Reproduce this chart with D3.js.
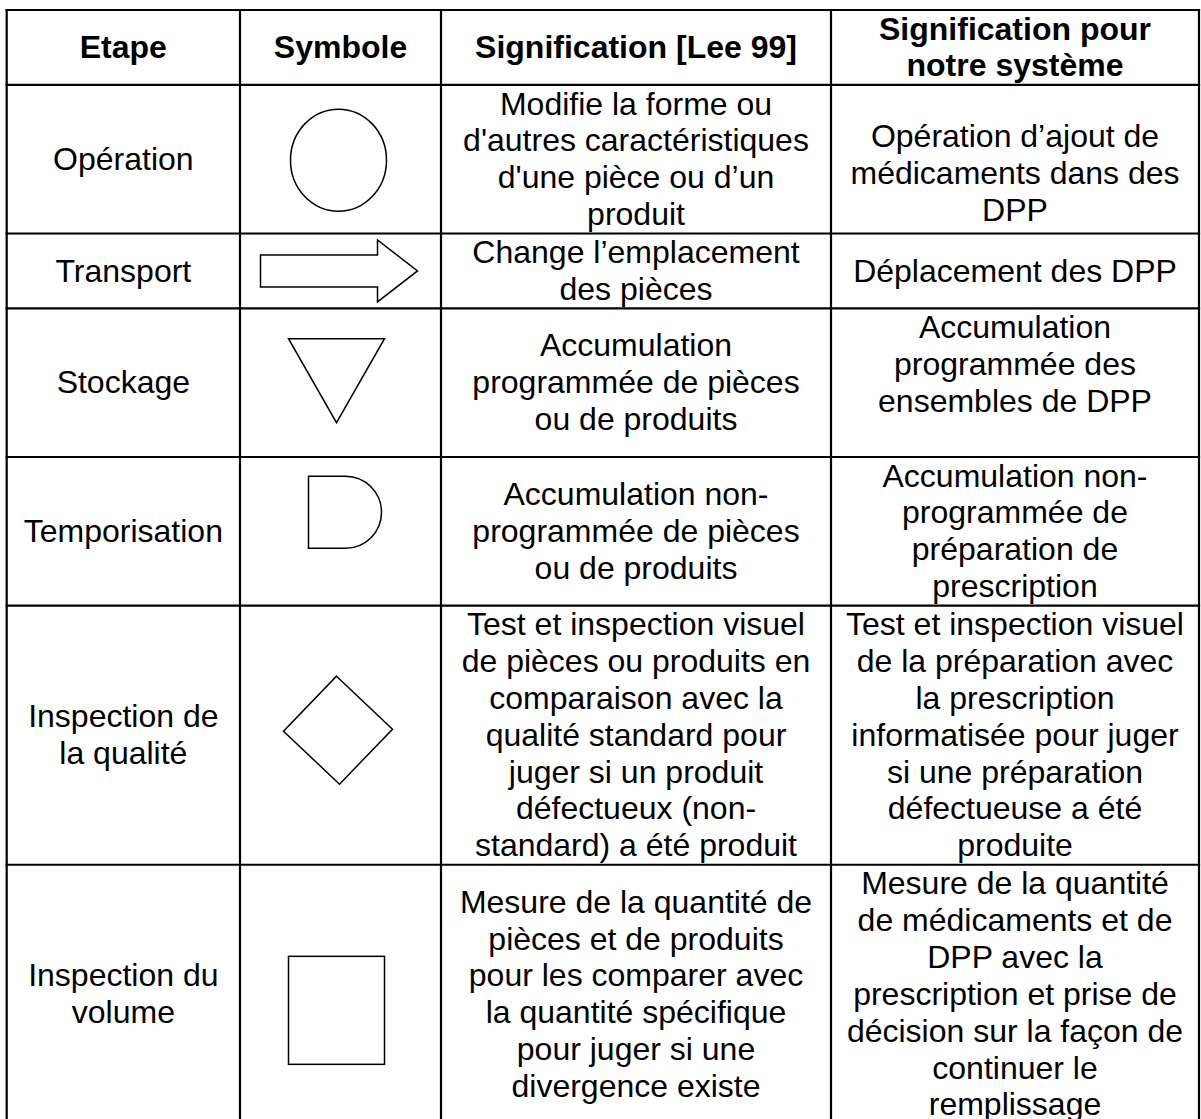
<!DOCTYPE html>
<html>
<head>
<meta charset="utf-8">
<script src="https://cdn.jsdelivr.net/npm/d3@7"></script>
<style>
  html, body { margin: 0; padding: 0; background: #fff; }
  svg { display: block; }
</style>
</head>
<body>
<div id="chart"></div>
<script>
// ---------- DATA ----------
const headers = [["Etape"], ["Symbole"], ["Signification [Lee 99]"], ["Signification pour", "notre système"]];

const steps = [
  ["Opération"],
  ["Transport"],
  ["Stockage"],
  ["Temporisation"],
  ["Inspection de", "la qualité"],
  ["Inspection du", "volume"]
];

const symbols = ["circle", "arrow", "triangle", "delay", "diamond", "square"];

const leeMeanings = [
  ["Modifie la forme ou", "d'autres caractéristiques", "d'une pièce ou d\u2019un", "produit"],
  ["Change l\u2019emplacement", "des pièces"],
  ["Accumulation", "programmée de pièces", "ou de produits"],
  ["Accumulation non-", "programmée de pièces", "ou de produits"],
  ["Test et inspection visuel", "de pièces ou produits en", "comparaison avec la", "qualité standard pour", "juger si un produit", "défectueux (non-", "standard) a été produit"],
  ["Mesure de la quantité de", "pièces et de produits", "pour les comparer avec", "la quantité spécifique", "pour juger si une", "divergence existe"]
];

const ourMeanings = [
  ["Opération d\u2019ajout de", "médicaments dans des", "DPP"],
  ["Déplacement des DPP"],
  ["Accumulation", "programmée des", "ensembles de DPP", ""],
  ["Accumulation non-", "programmée de", "préparation de", "prescription"],
  ["Test et inspection visuel", "de la préparation avec", "la prescription", "informatisée pour juger", "si une préparation", "défectueuse a été", "produite"],
  ["Mesure de la quantité", "de médicaments et de", "DPP avec la", "prescription et prise de", "décision sur la façon de", "continuer le", "remplissage"]
];

// ---------- LAYOUT ----------
const W = 1201, H = 1119;
const fs = 32, lh = 36.85, pad = 1.2, topY = 10;
const colEdges = [6.7, 240, 441, 831, 1199];
// small vertical nudges of particular cells (row index incl. header, column index)
const cellShift = { "1-3": 14 };

const rows = [{ cells: headers, header: true, symbol: null }].concat(
  steps.map((s, i) => ({ cells: [s, [], leeMeanings[i], ourMeanings[i]], header: false, symbol: symbols[i] }))
);
rows.forEach(r => { r.n = d3.max(r.cells, c => c.length); r.h = r.n * lh + pad; });
const yEdges = [topY].concat(Array.from(d3.cumsum(rows, r => r.h)).map(v => topY + v));
rows.forEach((r, i) => { r.y0 = yEdges[i]; r.y1 = yEdges[i + 1]; r.cy = (r.y0 + r.y1) / 2; });

const xCol = d3.scaleOrdinal().domain(d3.range(4)).range(colEdges.slice(0, 4));
const xColEnd = d3.scaleOrdinal().domain(d3.range(4)).range(colEdges.slice(1));
const colCenter = i => (xCol(i) + xColEnd(i)) / 2;

const svg = d3.select("#chart").append("svg")
  .attr("width", W).attr("height", H)
  .attr("viewBox", `0 0 ${W} ${H}`);

svg.append("rect").attr("width", W).attr("height", H).attr("fill", "#fff");

// ---------- TEXT ----------
const textG = svg.append("g")
  .attr("font-family", "'Liberation Sans', Arial, Helvetica, sans-serif")
  .attr("font-size", fs)
  .attr("fill", "#000")
  .attr("text-anchor", "middle");

rows.forEach((r, ri) => {
  r.cells.forEach((lines, ci) => {
    if (!lines.length) return;
    const t0 = r.cy - lines.length * lh / 2 + (cellShift[ri + "-" + ci] || 0);
    const t = textG.append("text")
      .attr("font-weight", r.header ? "bold" : "normal");
    lines.forEach((ln, li) => {
      t.append("tspan")
        .attr("x", colCenter(ci))
        .attr("y", t0 + li * lh + 29)
        .text(ln);
    });
  });
});

// ---------- SYMBOLS ----------
const symG = svg.append("g").attr("fill", "none").attr("stroke", "#000").attr("stroke-width", 1.5);
function drawSymbol(type, cx, cy) {
  const p = d3.path();
  if (type === "circle") {
    symG.append("ellipse").attr("cx", cx - 2).attr("cy", cy + 1).attr("rx", 48).attr("ry", 51);
    return;
  }
  if (type === "arrow") {
    const L = cx - 80, B = cx + 37, T = cx + 77, sh = 16, hh = 31;
    p.moveTo(L, cy - sh); p.lineTo(B, cy - sh); p.lineTo(B, cy - hh); p.lineTo(T, cy);
    p.lineTo(B, cy + hh); p.lineTo(B, cy + sh); p.lineTo(L, cy + sh); p.closePath();
  } else if (type === "triangle") {
    p.moveTo(cx - 52, cy - 44); p.lineTo(cx + 44, cy - 44); p.lineTo(cx - 4, cy + 40); p.closePath();
  } else if (type === "delay") {
    const x0 = cx - 32, y0 = cy - 55, h = 72, r = 36, sx = x0 + 37;
    p.moveTo(x0, y0); p.lineTo(sx, y0);
    p.arc(sx, y0 + r, r, -Math.PI / 2, Math.PI / 2);
    p.lineTo(x0, y0 + h); p.closePath();
  } else if (type === "diamond") {
    p.moveTo(cx - 4, cy - 59); p.lineTo(cx + 52, cy - 6); p.lineTo(cx - 1, cy + 49);
    p.lineTo(cx - 57, cy - 4); p.closePath();
  } else if (type === "square") {
    symG.append("rect").attr("x", cx - 52).attr("y", cy - 38).attr("width", 96).attr("height", 108);
    return;
  }
  symG.append("path").attr("d", p.toString());
}
rows.forEach(r => { if (r.symbol) drawSymbol(r.symbol, colCenter(1), r.cy); });

// ---------- GRID ----------
const gridG = svg.append("g").attr("stroke", "#000").attr("stroke-width", 2.2);
gridG.selectAll("line.h").data(yEdges).join("line")
  .attr("x1", colEdges[0] - 1.1).attr("x2", colEdges[4] + 1.1)
  .attr("y1", d => d).attr("y2", d => d);
gridG.selectAll("line.v").data(colEdges).join("line")
  .attr("x1", d => d).attr("x2", d => d)
  .attr("y1", topY - 1.1).attr("y2", yEdges[yEdges.length - 1] + 1.1);
</script>
</body>
</html>
